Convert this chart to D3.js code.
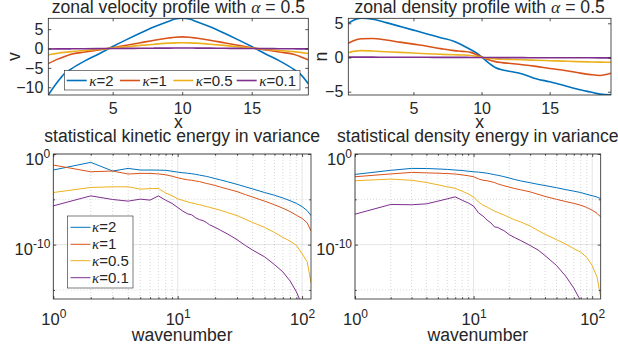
<!DOCTYPE html>
<html>
<head>
<meta charset="utf-8">
<script src="https://cdn.jsdelivr.net/npm/d3@7"></script>
<style>
  body { margin: 0; background: #fff; }
  text { font-family: "Liberation Sans", Arial, Helvetica, sans-serif; fill: #262626; }
</style>
</head>
<body>
<script>
let kappas = ["2", "1", "0.5", "0.1"];
let colores = ["#0072BD", "#D95319", "#EDB120", "#7E2F8E"];

// perfil de velocidad zonal v(x)
let xVel = [0.37, 1, 1.5, 2, 3, 4, 5, 6, 7, 8, 9, 9.5, 10, 10.5, 11, 12, 13, 14, 15, 16, 17, 18, 18.5, 19.07];
let vK2 = [-12, -8.8, -6.6, -5.3, -3.2, -1.4, 0.5, 2.3, 4.0, 5.6, 7.0, 7.6, 7.8, 7.6, 7.0, 5.6, 4.0, 2.3, 0.5, -1.4, -3.2, -5.3, -6.6, -9.1];
let vK1 = [-3.9, -2.8, -2.1, -1.5, -0.9, -0.35, 0.2, 0.85, 1.5, 2.15, 2.7, 2.92, 3.0, 2.92, 2.7, 2.15, 1.5, 0.85, 0.2, -0.35, -0.9, -1.5, -2.1, -2.9];
let vK05 = [-1.6, -1.25, -1.0, -0.8, -0.5, -0.22, 0.1, 0.45, 0.8, 1.1, 1.38, 1.46, 1.5, 1.46, 1.38, 1.1, 0.8, 0.45, 0.1, -0.22, -0.5, -0.8, -1.0, -1.3];
let vK01 = [-0.12, -0.1, -0.09, -0.08, -0.05, -0.02, 0.0, 0.03, 0.06, 0.09, 0.11, 0.12, 0.12, 0.12, 0.11, 0.09, 0.06, 0.03, 0.0, -0.02, -0.05, -0.08, -0.09, -0.1];

// perfil de densidad zonal n(x)
let xDen = [0.22, 0.6, 1.2, 2, 3, 4, 5, 6, 7, 8, 8.6, 9.2, 9.6, 10, 10.4, 11, 11.5, 12, 13, 14, 15, 16, 17, 18, 18.7, 19.5];
let nK2 = [5.0, 5.45, 5.73, 5.6, 5.1, 4.55, 4.0, 3.45, 2.9, 2.35, 1.8, 1.15, 0.7, 0.1, -0.6, -1.45, -1.8, -2.0, -2.4, -3.1, -3.55, -4.05, -4.6, -5.05, -5.35, -5.45];
let nK1 = [2.07, 2.45, 2.75, 2.78, 2.55, 2.25, 1.95, 1.65, 1.3, 1.0, 0.9, 0.75, 0.45, 0.1, -0.25, -0.6, -0.75, -0.85, -1.05, -1.3, -1.6, -1.87, -2.2, -2.5, -2.62, -2.3];
let nK05 = [0.7, 0.9, 1.0, 0.95, 0.85, 0.75, 0.65, 0.55, 0.47, 0.4, 0.37, 0.3, 0.18, 0.03, -0.1, -0.2, -0.25, -0.28, -0.33, -0.4, -0.47, -0.53, -0.6, -0.65, -0.68, -0.7];
let nK01 = [0.05, 0.05, 0.05, 0.05, 0.04, 0.04, 0.03, 0.03, 0.02, 0.02, 0.02, 0.01, 0.01, 0, -0.01, -0.01, -0.02, -0.02, -0.02, -0.03, -0.03, -0.03, -0.04, -0.04, -0.05, -0.05];

// espectros: numero de onda y log10 de la energia
let k = [1, 2, 3, 4, 5, 6, 7, 8, 9, 10, 11, 12, 13, 14, 15, 16, 17, 18, 20, 22, 25, 30, 35, 40, 50, 60, 70, 80, 90, 100, 110, 118];
let keK2 = [-1.77, -0.92, -1.88, -1.59, -1.77, -1.77, -1.78, -1.8, -1.9, -2.0, -2.07, -2.12, -2.18, -2.25, -2.33, -2.4, -2.47, -2.55, -2.72, -2.85, -3.05, -3.35, -3.62, -3.85, -4.25, -4.55, -4.85, -5.15, -5.45, -5.8, -6.25, -6.8];
let keK1 = [-1.22, -1.96, -1.88, -2.21, -2.14, -2.14, -2.2, -2.29, -2.45, -2.62, -2.75, -2.85, -2.9, -2.98, -3.05, -3.15, -3.25, -3.32, -3.47, -3.65, -3.85, -4.15, -4.48, -4.75, -5.2, -5.6, -5.98, -6.35, -6.76, -7.1, -7.6, -8.5];
let keK05 = [-4.25, -3.69, -3.62, -3.62, -3.88, -3.82, -3.8, -4.3, -4.6, -4.95, -5.12, -5.28, -5.4, -5.5, -5.6, -5.7, -5.8, -5.88, -6.05, -6.2, -6.45, -6.8, -7.2, -7.55, -8.1, -8.65, -9.2, -9.6, -10.08, -11.0, -11.9, -14.2];
let keK01 = [-5.72, -4.62, -5.02, -5.2, -4.98, -5.09, -4.62, -5.1, -5.45, -5.9, -6.3, -6.6, -6.72, -7.05, -7.25, -7.35, -7.55, -7.8, -8.1, -8.4, -8.8, -9.45, -10.1, -10.6, -11.35, -12.2, -13.0, -14.0, -15.2, -16.7, -18.5, -20];
let deK2 = [-2.25, -1.8, -1.59, -1.6, -1.65, -1.7, -1.77, -1.82, -1.9, -1.96, -2.0, -2.06, -2.12, -2.2, -2.28, -2.35, -2.42, -2.5, -2.65, -2.8, -2.97, -3.17, -3.35, -3.48, -3.72, -3.93, -4.1, -4.25, -4.45, -4.6, -4.75, -4.92];
let deK1 = [-2.51, -2.2, -2.03, -2.08, -2.12, -2.16, -2.21, -2.3, -2.4, -2.51, -2.75, -2.9, -2.95, -3.05, -3.15, -3.3, -3.4, -3.5, -3.65, -3.8, -3.95, -4.18, -4.45, -4.68, -5.0, -5.25, -5.45, -5.65, -5.9, -6.2, -6.55, -6.95];
let deK05 = [-2.95, -2.77, -2.9, -3.14, -3.4, -3.62, -3.8, -4.1, -4.4, -4.75, -5.3, -5.65, -5.85, -6.1, -6.3, -6.45, -6.6, -6.72, -7.0, -7.25, -7.5, -7.95, -8.45, -8.85, -9.45, -9.95, -10.45, -10.82, -11.4, -12.3, -13.6, -15.8];
let deK01 = [-6.64, -5.57, -5.6, -5.5, -5.2, -4.95, -4.73, -5.1, -5.4, -5.75, -6.5, -6.85, -7.3, -7.6, -8.05, -8.1, -8.3, -8.45, -8.9, -9.2, -9.55, -10.1, -10.6, -11.2, -12.3, -13.5, -14.8, -16.2, -17.5, -19, -20.5, -22];

let svg = d3.select("body").append("svg").attr("width", 618).attr("height", 351);
let defs = svg.append("defs");
let nClip = 0;

function recorte(b) {
  nClip++;
  defs.append("clipPath").attr("id", "c" + nClip)
    .append("rect").attr("x", b.x0).attr("y", b.y0).attr("width", b.x1 - b.x0).attr("height", b.y1 - b.y0);
  return "url(#c" + nClip + ")";
}

function titulo(b, y, partes) {
  let t = svg.append("text").attr("x", (b.x0 + b.x1) / 2).attr("y", y)
    .attr("text-anchor", "middle").attr("font-size", 17.6);
  partes.forEach(function (p) {
    let s = t.append("tspan").text(p[0]);
    if (p[1]) s.attr("font-family", "'Liberation Serif', serif").attr("font-style", "italic");
  });
}

function caja(b) {
  svg.append("rect").attr("x", b.x0).attr("y", b.y0)
    .attr("width", b.x1 - b.x0).attr("height", b.y1 - b.y0)
    .attr("fill", "none").attr("stroke", "#262626").attr("stroke-width", 0.8);
}

// el eje de d3 pone font-size 10: se corrige despues de llamarlo
function limpiar(g, tam) {
  g.select(".domain").remove();
  g.attr("font-size", tam || 16);
  g.selectAll(".tick line").attr("stroke", "#262626").attr("stroke-width", 0.8);
  g.selectAll("text").attr("fill", "#262626");
  return g;
}

function perfil(b, xDom, yDom, xs, series, yTicks, tit, ylab, dxLab) {
  let x = d3.scaleLinear().domain(xDom).range([b.x0, b.x1]);
  let y = d3.scaleLinear().domain(yDom).range([b.y1, b.y0]);

  let g = svg.append("g").attr("clip-path", recorte(b));
  let linea = d3.line().x((d, i) => x(xs[i])).y(d => y(d)).curve(d3.curveMonotoneX);
  series.forEach(function (s, i) {
    g.append("path").datum(s).attr("d", linea)
      .attr("fill", "none").attr("stroke", colores[i]).attr("stroke-width", 1.6);
  });

  let ax = svg.append("g").attr("transform", "translate(0," + b.y1 + ")")
    .call(d3.axisBottom(x).tickValues([5, 10, 15]).tickSize(-3).tickPadding(19));
  ax.selectAll("text").attr("dy", 0);
  limpiar(ax);
  limpiar(svg.append("g").attr("transform", "translate(0," + b.y0 + ")")
    .call(d3.axisTop(x).tickValues([5, 10, 15]).tickSize(-3).tickFormat("")));
  let ay = svg.append("g").attr("transform", "translate(" + b.x0 + ",0)")
    .call(d3.axisLeft(y).tickValues(yTicks).tickSize(-3).tickPadding(5));
  limpiar(ay);
  limpiar(svg.append("g").attr("transform", "translate(" + b.x1 + ",0)")
    .call(d3.axisRight(y).tickValues(yTicks).tickSize(-3).tickFormat("")));
  caja(b);

  titulo(b, 13, tit);
  svg.append("text").attr("x", (b.x0 + b.x1) / 2).attr("y", 128)
    .attr("text-anchor", "middle").attr("font-size", 17.6).text("x");
  svg.append("text").attr("transform", "translate(" + (b.x0 - dxLab) + "," + (b.y0 + b.y1) / 2 + ") rotate(-90)")
    .attr("text-anchor", "middle").attr("font-size", 17.6).text(ylab);
}

function potencia(sel) {
  sel.each(function (d) {
    let t = d3.select(this);
    t.text("10");
    t.append("tspan").attr("dy", -7).attr("font-size", 12).text(Math.round(Math.log10(d)));
  });
}

function espectro(b, series, tit) {
  let x = d3.scaleLog().domain([1, 118]).range([b.x0, b.x1]);
  let y = d3.scaleLog().domain([1e-16, 1]).range([b.y1, b.y0]);

  let xMay = [1, 10, 100];
  let xMen = [2, 3, 4, 5, 6, 7, 8, 9, 20, 30, 40, 50, 60, 70, 80, 90];
  let yMay = [1e-10, 1];
  let yMen = [1e-15, 1e-5];

  // rejilla
  let rej = svg.append("g").attr("stroke", "#262626");
  rej.selectAll(".vM").data(xMay).enter().append("line")
    .attr("x1", d => x(d)).attr("x2", d => x(d)).attr("y1", b.y0).attr("y2", b.y1)
    .attr("stroke-opacity", 0.15).attr("stroke-width", 0.8);
  rej.selectAll(".vm").data(xMen).enter().append("line")
    .attr("x1", d => x(d)).attr("x2", d => x(d)).attr("y1", b.y0).attr("y2", b.y1)
    .attr("stroke-opacity", 0.3).attr("stroke-width", 0.6).attr("stroke-dasharray", "1,2");
  rej.selectAll(".hM").data(yMay).enter().append("line")
    .attr("y1", d => y(d)).attr("y2", d => y(d)).attr("x1", b.x0).attr("x2", b.x1)
    .attr("stroke-opacity", 0.15).attr("stroke-width", 0.8);
  rej.selectAll(".hm").data(yMen).enter().append("line")
    .attr("y1", d => y(d)).attr("y2", d => y(d)).attr("x1", b.x0).attr("x2", b.x1)
    .attr("stroke-opacity", 0.3).attr("stroke-width", 0.6).attr("stroke-dasharray", "1,2");

  let g = svg.append("g").attr("clip-path", recorte(b));
  let linea = d3.line().x((d, i) => x(k[i])).y(d => y(Math.pow(10, d)));
  series.forEach(function (s, i) {
    g.append("path").datum(s).attr("d", linea)
      .attr("fill", "none").attr("stroke", colores[i]).attr("stroke-width", 1);
  });

  let ax = svg.append("g").attr("transform", "translate(0," + b.y1 + ")")
    .call(d3.axisBottom(x).tickValues(xMay).tickSize(-3));
  ax.selectAll("text").attr("y", 26).attr("dy", 0).call(potencia);
  limpiar(ax, 16.5);
  limpiar(svg.append("g").attr("transform", "translate(0," + b.y1 + ")")
    .call(d3.axisBottom(x).tickValues(xMen).tickSize(-1.8).tickFormat("")));
  limpiar(svg.append("g").attr("transform", "translate(0," + b.y0 + ")")
    .call(d3.axisTop(x).tickValues(xMay).tickSize(-3).tickFormat("")));
  limpiar(svg.append("g").attr("transform", "translate(0," + b.y0 + ")")
    .call(d3.axisTop(x).tickValues(xMen).tickSize(-1.8).tickFormat("")));

  let ay = svg.append("g").attr("transform", "translate(" + b.x0 + ",0)")
    .call(d3.axisLeft(y).tickValues(yMay).tickSize(-3).tickPadding(3));
  ay.selectAll("text").attr("dy", 10).call(potencia);
  limpiar(ay, 16.5);
  limpiar(svg.append("g").attr("transform", "translate(" + b.x0 + ",0)")
    .call(d3.axisLeft(y).tickValues(yMen).tickSize(-1.8).tickFormat("")));
  limpiar(svg.append("g").attr("transform", "translate(" + b.x1 + ",0)")
    .call(d3.axisRight(y).tickValues(yMay).tickSize(-3).tickFormat("")));
  limpiar(svg.append("g").attr("transform", "translate(" + b.x1 + ",0)")
    .call(d3.axisRight(y).tickValues(yMen).tickSize(-1.8).tickFormat("")));
  caja(b);

  titulo(b, 141.5, [[tit]]);
  svg.append("text").attr("x", (b.x0 + b.x1) / 2).attr("y", 340.5)
    .attr("text-anchor", "middle").attr("font-size", 17.6).text("wavenumber");
}

function etiqueta(t, kap) {
  t.append("tspan").attr("font-family", "'Liberation Serif', serif").attr("font-style", "italic").text("κ");
  t.append("tspan").text("=" + kap);
}

function leyendaFila(x0, y0, x1, y1, xs, yc) {
  svg.append("rect").attr("x", x0).attr("y", y0).attr("width", x1 - x0).attr("height", y1 - y0)
    .attr("fill", "#fff").attr("stroke", "#262626").attr("stroke-width", 0.6);
  kappas.forEach(function (kap, i) {
    svg.append("line").attr("x1", xs[i]).attr("x2", xs[i] + 20).attr("y1", yc).attr("y2", yc)
      .attr("stroke", colores[i]).attr("stroke-width", 1.6);
    let t = svg.append("text").attr("x", xs[i] + 22.5).attr("y", yc + 5).attr("font-size", 15);
    etiqueta(t, kap);
  });
}

function leyendaColumna(x0, y0, x1, y1, ys) {
  svg.append("rect").attr("x", x0).attr("y", y0).attr("width", x1 - x0).attr("height", y1 - y0)
    .attr("fill", "#fff").attr("stroke", "#262626").attr("stroke-width", 0.6);
  kappas.forEach(function (kap, i) {
    svg.append("line").attr("x1", x0 + 3).attr("x2", x0 + 23).attr("y1", ys[i]).attr("y2", ys[i])
      .attr("stroke", colores[i]).attr("stroke-width", 1);
    let t = svg.append("text").attr("x", x0 + 24.5).attr("y", ys[i] + 5).attr("font-size", 15);
    etiqueta(t, kap);
  });
}

let cajaTL = { x0: 48.3, x1: 308.3, y0: 18.3, y1: 95 };
let cajaTR = { x0: 348.3, x1: 611, y0: 18.3, y1: 95 };
let cajaBL = { x0: 53.3, x1: 311, y0: 154, y1: 299 };
let cajaBR = { x0: 355, x1: 600.7, y0: 154, y1: 299 };

perfil(cajaTL, [0.37, 19.07], [-12, 7.8], xVel, [vK2, vK1, vK05, vK01], [-10, -5, 0, 5],
  [["zonal velocity profile with "], ["α", true], [" = 0.5"]], "v", 28);
leyendaFila(64.3, 70.5, 300, 90, [66.7, 120, 173.3, 236.7], 80.5);

perfil(cajaTR, [0.22, 19.5], [-5.48, 5.73], xDen, [nK2, nK1, nK05, nK01], [-5, 0, 5],
  [["zonal density profile with "], ["α", true], [" = 0.5"]], "n", 21);

espectro(cajaBL, [keK2, keK1, keK05, keK01], "statistical kinetic energy in variance");
leyendaColumna(67.5, 216, 133, 288, [227.3, 244.3, 260.7, 277.7]);

espectro(cajaBR, [deK2, deK1, deK05, deK01], "statistical density energy in variance");
</script>
</body>
</html>
